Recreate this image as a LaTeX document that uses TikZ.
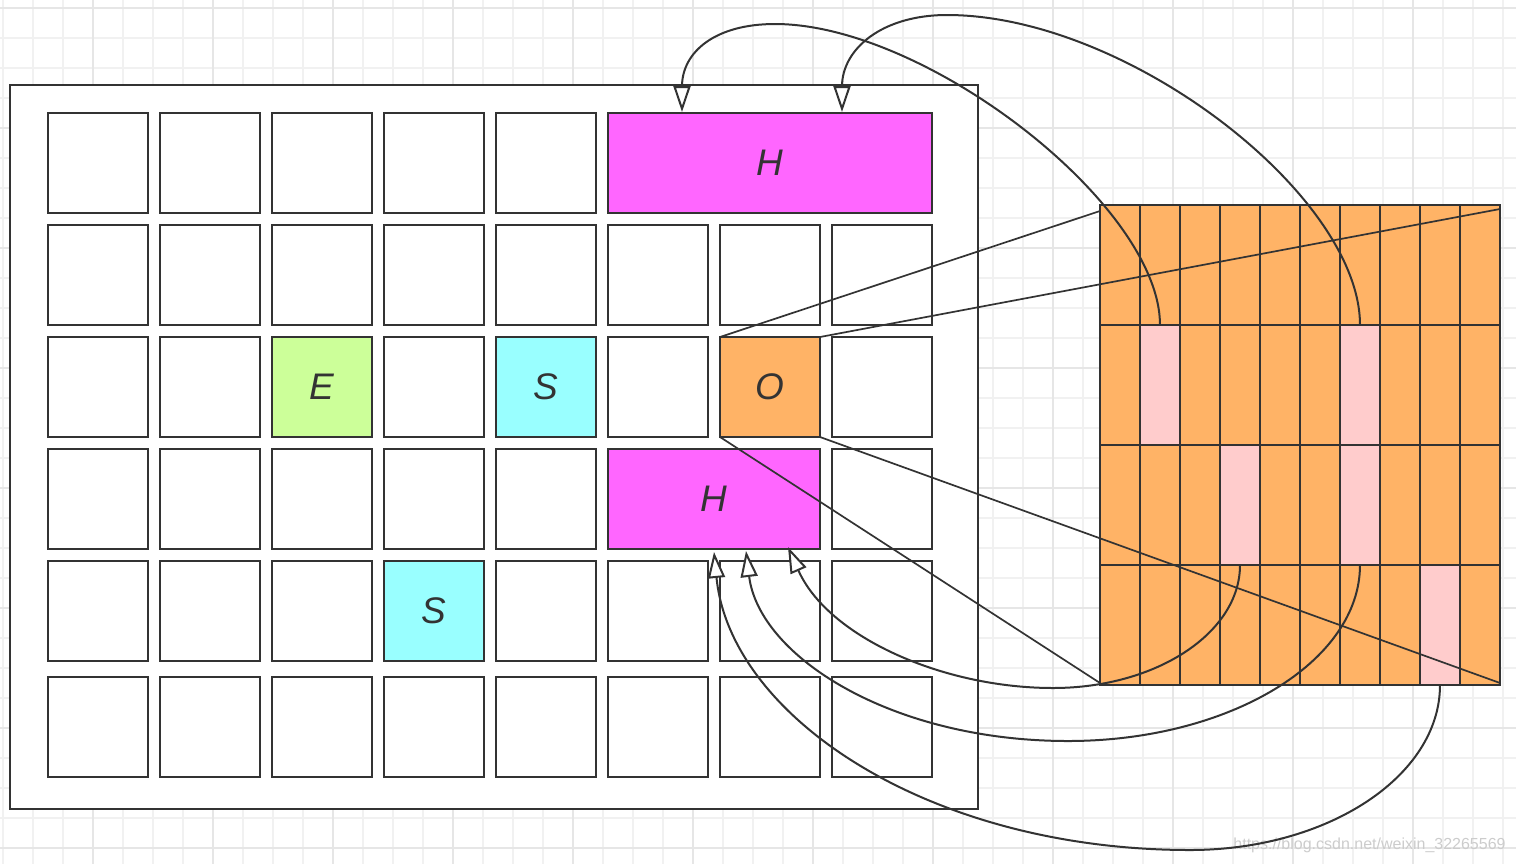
\documentclass[tikz,border=0pt]{standalone}
\usepackage{fontspec}
\setmainfont{Liberation Sans}
\usetikzlibrary{arrows.meta,calc}
\definecolor{lc}{HTML}{333333}
\definecolor{magH}{HTML}{FF66FF}
\definecolor{orO}{HTML}{FFB366}
\definecolor{grE}{HTML}{CCFF99}
\definecolor{cyS}{HTML}{99FFFF}
\definecolor{pk}{HTML}{FFCCCC}
\definecolor{gmin}{HTML}{F1F1F1}
\definecolor{gmaj}{HTML}{E6E6E6}
\begin{document}
\begin{tikzpicture}[x=0.5pt,y=-0.5pt,
  cell/.style={draw=lc,line width=1pt,fill=white,minimum width=50pt,minimum height=50pt,
    inner sep=0pt,outer sep=0pt,font=\fontsize{18.5}{20}\selectfont\itshape,text=lc},
  rc/.style={draw=lc,line width=1pt,minimum width=20pt,minimum height=60pt,inner sep=0pt,outer sep=0pt},
  conn/.style={draw=lc,line width=1pt},
  arr/.style={conn,-{Triangle[length=13pt,width=8.5pt,fill=white,line width=1pt]}},
  gminor/.style={draw=gmin,line width=0.8pt},
  gmajor/.style={draw=gmaj,line width=1pt}]
\useasboundingbox (0,0) rectangle (1516,864);
% background grid
\foreach \x in {3,33,...,1515} \draw[gminor] (\x,0) -- (\x,864);
\foreach \y in {8,38,...,863} \draw[gminor] (0,\y) -- (1516,\y);
\foreach \x in {93,213,...,1515} \draw[gmajor] (\x,0) -- (\x,864);
\foreach \y in {8,128,...,863} \draw[gmajor] (0,\y) -- (1516,\y);
% watermark
\node[text=gray!40,font=\fontsize{8}{9}\selectfont,anchor=east,inner sep=0pt] (wm) at (1506,845) {https://blog.csdn.net/weixin\_32265569};
% frame
\node[draw=lc,line width=1pt,fill=white,minimum width=484pt,minimum height=362pt,inner sep=0pt,outer sep=0pt] (frame) at (494,447) {};
% row 0
\foreach \c in {0,...,4} \node[cell] (L0\c) at ({98+112*\c},163) {};
\node[cell,fill=magH,minimum width=162pt] (H0) at (770,163) {H};
% row 1
\foreach \c in {0,...,7} \node[cell] (L1\c) at ({98+112*\c},275) {};
% row 2
\foreach \c in {0,1,3,5,7} \node[cell] (L2\c) at ({98+112*\c},387) {};
\node[cell,fill=grE] (E) at (322,387) {E};
\node[cell,fill=cyS] (S1) at (546,387) {S};
\node[cell,fill=orO] (O) at (770,387) {O};
% row 3
\foreach \c in {0,...,4,7} \node[cell] (L3\c) at ({98+112*\c},499) {};
\node[cell,fill=magH,minimum width=106pt] (H3) at (714,499) {H};
% row 4
\foreach \c in {0,1,2,4,5,6,7} \node[cell] (L4\c) at ({98+112*\c},611) {};
\node[cell,fill=cyS] (S2) at (434,611) {S};
% row 5
\foreach \c in {0,...,7} \node[cell] (L5\c) at ({98+112*\c},727) {};
% right grid
\foreach \i in {0,...,9} {
  \foreach \j in {0,...,3} {
    \pgfmathtruncatemacro\ispk{((\i==1)&&(\j==1))||((\i==6)&&(\j==1))||((\i==6)&&(\j==2))||((\i==3)&&(\j==2))||((\i==8)&&(\j==3))}
    \ifnum\ispk=1 \def\fc{pk}\else\def\fc{orO}\fi
    \node[rc,fill=\fc] (g\i\j) at ({1120+40*\i},{265+120*\j}) {};
  }
}
% projection lines
\draw[conn,line width=0.85pt] (O.north west) -- ($(g00.north west)+(0,6)$);
\draw[conn,line width=0.85pt] (O.north east) -- ($(g90.north east)+(0,4)$);
\draw[conn,line width=0.85pt] (O.south west) -- ($(g03.south west)+(0,-2)$);
\draw[conn,line width=0.85pt] (O.south east) -- ($(g93.south east)+(0,-2)$);
% arrow targets
\coordinate (hA) at ($(H0.north west)+(74,-1)$);
\coordinate (hB) at ($(H0.north west)+(234,-1)$);
\coordinate (hC1) at ($(H3.south west)+(106,3)$);
\coordinate (hC2) at ($(H3.south west)+(138,2)$);
\coordinate (hC3) at ($(H3.south west)+(180,-2)$);
% curves
\draw[arr] (g11.north) .. controls (1160,205) and (926,24) .. (775,24) .. controls (715,24) and (682,52) .. (hA);
\draw[arr] (g61.north) .. controls (1360,195) and (1127,15) .. (947,15) .. controls (882,15) and (842,49) .. (hB);
\draw[arr] (g32.south) .. controls (1240,633) and (1156,688) .. (1053,688) .. controls (943,688) and (828,637) .. (hC3);
\draw[arr] (g62.south) .. controls (1360,662) and (1229,741) .. (1068,741) .. controls (891,741) and (759,656) .. (hC2);
\draw[arr] (g83.south) .. controls (1440,776) and (1328,850) .. (1190,850) .. controls (928,850) and (730,716) .. (hC1);
\end{tikzpicture}
\end{document}
